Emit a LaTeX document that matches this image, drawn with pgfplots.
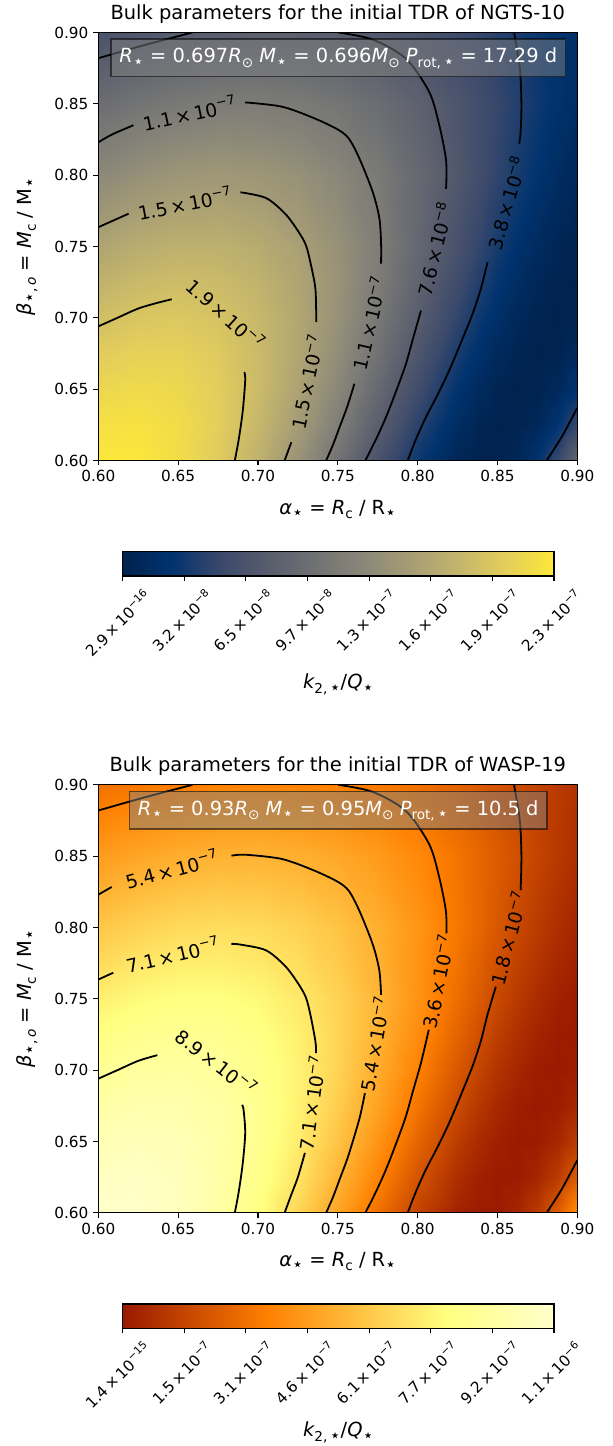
\documentclass[border=0pt]{standalone}
\usepackage{fontspec}
\setmainfont{DejaVu Sans}
\usepackage{graphicx}
\usepackage{pgfplots}
\usepackage{pgfplotstable}
\pgfplotsset{compat=1.18}

% k2/Q in units of 1e-7 : T = NGTS-10, B = WASP-19
\pgfplotstableread{
a b T B
0.600 0.60 2.2589 10.701
0.625 0.60 2.2496 10.657
0.650 0.60 2.1579 10.223
0.675 0.60 1.9806 9.3828
0.700 0.60 1.7216 8.1557
0.725 0.60 1.3939 6.6036
0.750 0.60 1.0215 4.8389
0.775 0.60 0.63986 3.0312
0.800 0.60 0.29866 1.4148
0.825 0.60 0.06188 0.29313
0.8375 0.60 0.0068576 0.032487
0.850 0.60 0.00898 0.04252
0.8625 0.60 0.080653 0.38208
0.875 0.60 0.23534 1.1149
0.8875 0.60 0.48746 2.3093
0.900 0.60 0.85248 4.0385
0.600 0.625 2.1835 10.344
0.625 0.625 2.2015 10.429
0.650 0.625 2.1438 10.156
0.675 0.625 2.0051 9.4990
0.700 0.625 1.7863 8.4622
0.725 0.625 1.4959 7.0864
0.750 0.625 1.1518 5.4564
0.775 0.625 0.78275 3.7081
0.800 0.625 0.42979 2.0361
0.825 0.625 0.14745 0.69850
0.8375 0.625 0.053713 0.25445
0.850 0.625 0.004673 0.022139
0.8625 0.625 0.011320 0.053627
0.875 0.625 0.085627 0.40564
0.8875 0.625 0.24057 1.1397
0.900 0.625 0.49010 2.3218
0.600 0.65 2.0895 9.8987
0.625 0.65 2.1300 10.090
0.650 0.65 2.1018 9.9571
0.675 0.65 1.9985 9.4677
0.700 0.65 1.8183 8.6137
0.725 0.65 1.5661 7.4191
0.750 0.65 1.2550 5.9454
0.775 0.65 0.90750 4.2991
0.800 0.65 0.55714 2.6393
0.825 0.65 0.24974 1.1831
0.8375 0.65 0.13010 0.61633
0.850 0.65 0.04449 0.21074
0.8625 0.65 0.0025217 0.011946
0.875 0.65 0.01479 0.07005
0.8875 0.65 0.092763 0.43945
0.900 0.65 0.24895 1.1794
0.600 0.675 1.9798 9.3788
0.625 0.675 2.0380 9.6547
0.650 0.675 2.0350 9.6406
0.675 0.675 1.9632 9.3004
0.700 0.675 1.8190 8.6173
0.725 0.675 1.6046 7.6016
0.750 0.675 1.3290 6.2959
0.775 0.675 1.0092 4.7811
0.800 0.675 0.67240 3.1854
0.825 0.675 0.35643 1.6885
0.8375 0.675 0.22143 1.0490
0.850 0.675 0.11146 0.52804
0.8625 0.675 0.034864 0.16516
0.875 0.675 0.000838 0.003971
0.8875 0.675 0.019494 0.092347
0.900 0.675 0.10185 0.48252
0.600 0.70 1.8569 8.7965
0.625 0.70 1.9285 9.1361
0.650 0.70 1.9462 9.2197
0.675 0.70 1.9018 9.0093
0.700 0.70 1.7905 8.4823
0.725 0.70 1.6123 7.6381
0.750 0.70 1.3729 6.5039
0.775 0.70 1.0849 5.1393
0.800 0.70 0.76953 3.6455
0.825 0.70 0.45790 2.1692
0.8375 0.70 0.31613 1.4976
0.850 0.70 0.19192 0.90919
0.8625 0.70 0.092402 0.43774
0.875 0.70 0.02552 0.12087
0.8875 0.70 0.0000267 0.000126
0.900 0.70 0.02557 0.12111
0.600 0.725 1.7232 8.1635
0.625 0.725 1.8042 8.5472
0.650 0.725 1.8381 8.7079
0.675 0.725 1.8169 8.6073
0.700 0.725 1.7350 8.2192
0.725 0.725 1.5906 7.5351
0.750 0.725 1.3868 6.5698
0.775 0.725 1.1326 5.3654
0.800 0.725 0.84432 3.9998
0.825 0.725 0.54692 2.5909
0.8375 0.725 0.40519 1.9195
0.850 0.725 0.27492 1.3024
0.8625 0.725 0.16220 0.76841
0.875 0.725 0.073729 0.34928
0.8875 0.725 0.017034 0.080694
0.900 0.725 0.000420 0.001991
0.600 0.75 1.5810 7.4896
0.625 0.75 1.6674 7.8992
0.650 0.75 1.7135 8.1175
0.675 0.75 1.7113 8.1070
0.700 0.75 1.6548 7.8395
0.725 0.75 1.5412 7.3013
0.750 0.75 1.3716 6.4975
0.775 0.75 1.1517 5.4561
0.800 0.75 0.89404 4.2354
0.825 0.75 0.61812 2.9282
0.8375 0.75 0.48172 2.2820
0.850 0.75 0.35198 1.6674
0.8625 0.75 0.23392 1.1082
0.875 0.75 0.13320 0.63104
0.8875 0.75 0.056188 0.26618
0.900 0.75 0.00993 0.04704
0.600 0.80 1.2779 6.0536
0.625 0.80 1.3652 6.4673
0.650 0.80 1.4241 6.7465
0.675 0.80 1.4479 6.8589
0.700 0.80 1.4305 6.7766
0.725 0.80 1.3680 6.4808
0.750 0.80 1.2591 5.9647
0.775 0.80 1.1054 5.2365
0.800 0.80 0.91303 4.3253
0.825 0.80 0.69335 3.2846
0.8375 0.80 0.57842 2.7402
0.850 0.80 0.46373 2.1968
0.8625 0.80 0.35254 1.6701
0.875 0.80 0.24867 1.1780
0.8875 0.80 0.15643 0.74106
0.900 0.80 0.08070 0.38230
0.600 0.85 0.95996 4.5477
0.625 0.85 1.0368 4.9115
0.650 0.85 1.0953 5.1887
0.675 0.85 1.1302 5.3539
0.700 0.85 1.1365 5.3838
0.725 0.85 1.1104 5.2603
0.750 0.85 1.0495 4.9718
0.775 0.85 0.95332 4.5162
0.800 0.85 0.82416 3.9043
0.825 0.85 0.66766 3.1629
0.8375 0.85 0.58202 2.7572
0.850 0.85 0.49354 2.3381
0.8625 0.85 0.40422 1.9149
0.875 0.85 0.31637 1.4988
0.8875 0.85 0.23270 1.1024
0.900 0.85 0.15630 0.74045
0.600 0.90 0.63669 3.0162
0.625 0.90 0.69407 3.2880
0.650 0.90 0.74117 3.5112
0.675 0.90 0.77441 3.6686
0.700 0.90 0.79032 3.7440
0.725 0.90 0.78595 3.7233
0.750 0.90 0.75905 3.5959
0.775 0.90 0.70837 3.3558
0.800 0.90 0.63421 3.0045
0.825 0.90 0.53876 2.5523
0.8375 0.90 0.48437 2.2946
0.850 0.90 0.42657 2.0208
0.8625 0.90 0.36641 1.7358
0.875 0.90 0.30509 1.4453
0.8875 0.90 0.24412 1.1565
0.900 0.90 0.18517 0.87723
}\fielddata

% colour bars: value x (units of 1e-7) across the bar, y = 0..1
\pgfplotstableread{
x y
0 0
0.18875 0
0.3775 0
0.56625 0
0.755 0
0.94375 0
1.1325 0
1.32125 0
1.51 0
1.69875 0
1.8875 0
2.07625 0
2.265 0
0 1
0.18875 1
0.3775 1
0.56625 1
0.755 1
0.94375 1
1.1325 1
1.32125 1
1.51 1
1.69875 1
1.8875 1
2.07625 1
2.265 1
}\cbartop
\pgfplotstableread{
x y
0 0
0.89417 0
1.78833 0
2.6825 0
3.57667 0
4.47083 0
5.365 0
6.25917 0
7.15333 0
8.0475 0
8.94167 0
9.83583 0
10.73 0
0 1
0.89417 1
1.78833 1
2.6825 1
3.57667 1
4.47083 1
5.365 1
6.25917 1
7.15333 1
8.0475 1
8.94167 1
9.83583 1
10.73 1
}\cbarbot

\newcommand{\tickfont}{\fontsize{11}{13}\selectfont}
\newcommand{\labfont}{\fontsize{14}{16}\selectfont}
\newcommand{\titlefont}{\fontsize{14}{16}\selectfont}
\newcommand{\boxfont}{\fontsize{14}{16}\selectfont}
\newcommand{\sbs}[1]{\raisebox{-0.22em}{\scalebox{0.7}{#1}}}
\newcommand{\sps}[1]{\raisebox{0.42em}{\scalebox{0.7}{#1}}}
\newcommand{\str}{\scalebox{1.3}{⋆}}
\newcommand{\st}{\sbs{\str}}
\newcommand{\sun}{\sbs{⊙}}
\newcommand{\tm}[2]{#1\,×\,10\sps{−#2}}

\pgfplotsset{
  colormap={cividis}{rgb255(0cm)=(0,34,78) rgb255(1cm)=(0,51,111) rgb255(2cm)=(57,72,107) rgb255(3cm)=(87,92,109) rgb255(4cm)=(112,113,115) rgb255(5cm)=(138,135,121) rgb255(6cm)=(166,157,117) rgb255(7cm)=(196,181,108) rgb255(8cm)=(228,207,91) rgb255(9cm)=(254,232,56)},
  colormap={afmhotcut}{rgb(0cm)=(0.6,0.1,0) rgb(4cm)=(1,0.5,0) rgb(9cm)=(1,1,0.5) rgb(12cm)=(1,1,0.8)},
  panel/.style={
    scale only axis, width=344.88pt, height=308.16pt,
    xmin=0.6, xmax=0.9, ymin=0.6, ymax=0.9,
    axis on top, enlargelimits=false,
    xtick={0.6,0.65,0.7,0.75,0.8,0.85,0.9},
    xticklabels={0.60,0.65,0.70,0.75,0.80,0.85,0.90},
    ytick={0.6,0.65,0.7,0.75,0.8,0.85,0.9},
    yticklabels={0.60,0.65,0.70,0.75,0.80,0.85,0.90},
    tick align=outside, xtick pos=left, ytick pos=left,
    major tick length=3.6pt,
    tick style={black, line width=0.8pt},
    axis line style={line width=0.8pt},
    tick label style={font=\tickfont},
    point meta min=0,
  },
  cbar/.style={
    anchor=north west,
    scale only axis, width=310.54pt, height=17.5pt,
    ymin=0, ymax=1, ytick=\empty, enlargelimits=false, axis on top,
    xtick pos=left, xticklabel pos=left,
    tick align=outside, major tick length=3.6pt,
    tick style={black, line width=0.8pt},
    axis line style={line width=0.8pt},
    point meta min=0,
    xticklabel style={font=\tickfont, xshift=14pt, rotate=45, anchor=north east},
  },
  cl/.style={black, line width=1.3pt, smooth, tension=0.5},
}
\tikzset{clab/.style={font=\fontsize{13.5}{15}\selectfont, inner sep=0pt}}

\begin{document}
\begin{tikzpicture}[x=0.72pt,y=0.72pt]
\useasboundingbox (0,0) rectangle (613,1446);

% ---------------- NGTS-10 ----------------
\begin{axis}[panel, at={(70.776pt,709.56pt)}, anchor=south west,
  colormap name=cividis, point meta max=2.265]
\addplot[surf, shader=interp, mesh/cols=16, point meta=explicit] table[x=a, y=b, meta=T] {\fielddata};
% contour 1.9e-7
\addplot[cl] coordinates {(0.6000,0.6940) (0.6120,0.7000) (0.6250,0.7065) (0.6370,0.7105) (0.6460,0.7130)};
\addplot[cl] coordinates {(0.6915,0.6620) (0.6920,0.6560) (0.6905,0.6350) (0.6880,0.6150) (0.6855,0.6000)};
% contour 1.5e-7
\addplot[cl] coordinates {(0.6000,0.7635) (0.6100,0.7685) (0.6190,0.7730)};
\addplot[cl] coordinates {(0.6890,0.7880) (0.7050,0.7840) (0.7170,0.7730) (0.7250,0.7610) (0.7300,0.7510) (0.7330,0.7380) (0.7360,0.7200) (0.7365,0.6970)};
\addplot[cl] coordinates {(0.7209,0.6128) (0.7167,0.6000)};
% contour 1.1e-7
\addplot[cl] coordinates {(0.6000,0.8230) (0.6084,0.8284) (0.6220,0.8350)};
\addplot[cl] coordinates {(0.6920,0.8510) (0.7150,0.8480) (0.7350,0.8400) (0.7500,0.8320) (0.7570,0.8255) (0.7636,0.8115) (0.7719,0.7881) (0.7760,0.7700) (0.7771,0.7527) (0.7771,0.7380)};
\addplot[cl] coordinates {(0.7604,0.6538) (0.7560,0.6380) (0.7511,0.6233) (0.7470,0.6110) (0.7427,0.6000)};
% contour 7.6e-8
\addplot[cl] coordinates {(0.6000,0.8820) (0.6300,0.8915) (0.6590,0.9000)};
\addplot[cl] coordinates {(0.7502,0.9000) (0.7720,0.8950) (0.7927,0.8816) (0.8073,0.8582) (0.8136,0.8348) (0.8177,0.8115) (0.8180,0.7958) (0.8177,0.7904)};
\addplot[cl] coordinates {(0.8021,0.7051) (0.7970,0.6850) (0.7927,0.6678) (0.7870,0.6500) (0.7802,0.6304) (0.7740,0.6150) (0.7673,0.6000)};
% contour 3.8e-8
\addplot[cl] coordinates {(0.8604,0.9000) (0.8640,0.8750) (0.8650,0.8500) (0.8645,0.8300) (0.8636,0.8220)};
\addplot[cl] coordinates {(0.8438,0.7390) (0.8395,0.7200) (0.8344,0.7028) (0.8280,0.6850) (0.8198,0.6631) (0.8120,0.6450) (0.8052,0.6304) (0.7990,0.6150) (0.7938,0.6000)};
\addplot[cl] coordinates {(0.8808,0.6000) (0.8905,0.6170) (0.9000,0.6370)};
% labels
\node[clab, rotate=12] at (axis cs:0.6570,0.8435) {\tm{1.1}{7}};
\node[clab, rotate=11] at (axis cs:0.6540,0.7805) {\tm{1.5}{7}};
\node[clab, rotate=-42] at (axis cs:0.6800,0.7025) {\tm{1.9}{7}};
\node[clab, rotate=78] at (axis cs:0.7305,0.6550) {\tm{1.5}{7}};
\node[clab, rotate=77] at (axis cs:0.7695,0.6960) {\tm{1.1}{7}};
\node[clab, rotate=76] at (axis cs:0.8105,0.7478) {\tm{7.6}{8}};
\node[clab, rotate=74] at (axis cs:0.8555,0.7805) {\tm{3.8}{8}};
\end{axis}

\begin{axis}[cbar, at={(88.344pt,643.896pt)}, xmin=0, xmax=2.265,
  colormap name=cividis, point meta max=2.265,
  xtick={0,0.32357,0.64714,0.97071,1.29429,1.61786,1.94143,2.265},
  xticklabels={\tm{2.9}{16},\tm{3.2}{8},\tm{6.5}{8},\tm{9.7}{8},\tm{1.3}{7},\tm{1.6}{7},\tm{1.9}{7},\tm{2.3}{7}}]
\addplot[surf, shader=interp, mesh/cols=13, point meta=explicit] table[x=x, y=y, meta=x] {\cbartop};
\end{axis}

% ---------------- WASP-19 ----------------
\begin{axis}[panel, at={(70.776pt,167.9pt)}, anchor=south west,
  colormap name=afmhotcut, point meta max=10.73]
\addplot[surf, shader=interp, mesh/cols=16, point meta=explicit] table[x=a, y=b, meta=B] {\fielddata};
% contour 8.9e-7
\addplot[cl] coordinates {(0.6000,0.6940) (0.6120,0.7000) (0.6250,0.7065) (0.6370,0.7105)};
\addplot[cl] coordinates {(0.6901,0.6757) (0.6910,0.6720) (0.6920,0.6560) (0.6905,0.6350) (0.6880,0.6150) (0.6855,0.6000)};
% contour 7.1e-7
\addplot[cl] coordinates {(0.6000,0.7635) (0.6094,0.7683)};
\addplot[cl] coordinates {(0.6834,0.7885) (0.6890,0.7880) (0.7050,0.7840) (0.7170,0.7730) (0.7250,0.7610) (0.7300,0.7510) (0.7330,0.7380) (0.7360,0.7200) (0.7364,0.7119)};
\addplot[cl] coordinates {(0.7294,0.6420) (0.7250,0.6250) (0.7209,0.6128) (0.7167,0.6000)};
% contour 5.4e-7
\addplot[cl] coordinates {(0.6000,0.8230) (0.6084,0.8284)};
\addplot[cl] coordinates {(0.6834,0.8503) (0.6920,0.8510) (0.7150,0.8480) (0.7350,0.8400) (0.7500,0.8320) (0.7570,0.8255) (0.7636,0.8115) (0.7719,0.7881) (0.7760,0.7700) (0.7771,0.7527)};
\addplot[cl] coordinates {(0.7670,0.6839) (0.7640,0.6680) (0.7604,0.6538) (0.7560,0.6380) (0.7511,0.6233) (0.7470,0.6110) (0.7427,0.6000)};
% contour 3.6e-7
\addplot[cl] coordinates {(0.6000,0.8820) (0.6300,0.8915) (0.6590,0.9000)};
\addplot[cl] coordinates {(0.7502,0.9000) (0.7720,0.8950) (0.7927,0.8816) (0.8073,0.8582) (0.8136,0.8348) (0.8177,0.8115) (0.8180,0.7958)};
\addplot[cl] coordinates {(0.8070,0.7283) (0.8021,0.7051) (0.7970,0.6850) (0.7927,0.6678) (0.7870,0.6500) (0.7802,0.6304) (0.7740,0.6150) (0.7673,0.6000)};
% contour 1.8e-7
\addplot[cl] coordinates {(0.8604,0.9000) (0.8640,0.8750) (0.8650,0.8500) (0.8645,0.8261)};
\addplot[cl] coordinates {(0.8490,0.7585) (0.8438,0.7390) (0.8395,0.7200) (0.8344,0.7028) (0.8280,0.6850) (0.8198,0.6631) (0.8120,0.6450) (0.8052,0.6304) (0.7990,0.6150) (0.7938,0.6000)};
\addplot[cl] coordinates {(0.8808,0.6000) (0.8905,0.6170) (0.9000,0.6370)};
% labels
\node[clab, rotate=15] at (axis cs:0.6459,0.8410) {\tm{5.4}{7}};
\node[clab, rotate=13] at (axis cs:0.6464,0.7810) {\tm{7.1}{7}};
\node[clab, rotate=-38] at (axis cs:0.6740,0.7060) {\tm{8.9}{7}};
\node[clab, rotate=82] at (axis cs:0.7335,0.6770) {\tm{7.1}{7}};
\node[clab, rotate=80] at (axis cs:0.7730,0.7183) {\tm{5.4}{7}};
\node[clab, rotate=79] at (axis cs:0.8125,0.7620) {\tm{3.6}{7}};
\node[clab, rotate=75] at (axis cs:0.8568,0.7923) {\tm{1.8}{7}};
\end{axis}

\begin{axis}[cbar, at={(88.344pt,102.24pt)}, xmin=0, xmax=10.73,
  colormap name=afmhotcut, point meta max=10.73,
  xtick={0,1.53286,3.06571,4.59857,6.13143,7.66429,9.19714,10.73},
  xticklabels={\tm{1.4}{15},\tm{1.5}{7},\tm{3.1}{7},\tm{4.6}{7},\tm{6.1}{7},\tm{7.7}{7},\tm{9.2}{7},\tm{1.1}{6}}]
\addplot[surf, shader=interp, mesh/cols=13, point meta=explicit] table[x=x, y=y, meta=x] {\cbarbot};
\end{axis}

% ---------------- texts ----------------
\node[anchor=base, font=\titlefont] at (337.8,1426.7) {Bulk parameters for the initial TDR of NGTS-10};
\node[anchor=base, font=\titlefont] at (337.8,674.3) {Bulk parameters for the initial TDR of WASP-19};

\node[anchor=base, font=\labfont] at (337.8,931.6) {{\itshape α}\st{} = {\itshape R}\sbs{c} / R\st};
\node[anchor=base, font=\labfont] at (337.8,179.3) {{\itshape α}\st{} = {\itshape R}\sbs{c} / R\st};
\node[rotate=90, font=\labfont] at (27,1199.4) {{\itshape β}\sbs{\str,\,{\itshape o}} = {\itshape M}\sbs{c} / M\st};
\node[rotate=90, font=\labfont] at (27,447.1) {{\itshape β}\sbs{\str,\,{\itshape o}} = {\itshape M}\sbs{c} / M\st};

\node[anchor=base, font=\labfont] at (338.4,757) {{\itshape k}\sbs{2,\,\str}/{\itshape Q}\st};
\node[anchor=base, font=\labfont] at (338.4,9) {{\itshape k}\sbs{2,\,\str}/{\itshape Q}\st};

\node[anchor=north, fill=gray, fill opacity=0.5, draw=black, draw opacity=0.55, line width=1pt,
      text opacity=1, text=white, font=\boxfont, inner xsep=6pt, inner ysep=6.5pt,
      text height=10.6pt, text depth=3.6pt] at (338.3,1407.7)
  {{\itshape R}\st{} = 0.697{\itshape R}\sun{} {\itshape M}\st{} = 0.696{\itshape M}\sun{} {\itshape P}\sbs{rot,\,\str} = 17.29 d};
\node[anchor=north, fill=gray, fill opacity=0.5, draw=black, draw opacity=0.55, line width=1pt,
      text opacity=1, text=white, font=\boxfont, inner xsep=6pt, inner ysep=6.5pt,
      text height=10.6pt, text depth=3.6pt] at (338.3,655.4)
  {{\itshape R}\st{} = 0.93{\itshape R}\sun{} {\itshape M}\st{} = 0.95{\itshape M}\sun{} {\itshape P}\sbs{rot,\,\str} = 10.5 d};
\end{tikzpicture}
\end{document}
